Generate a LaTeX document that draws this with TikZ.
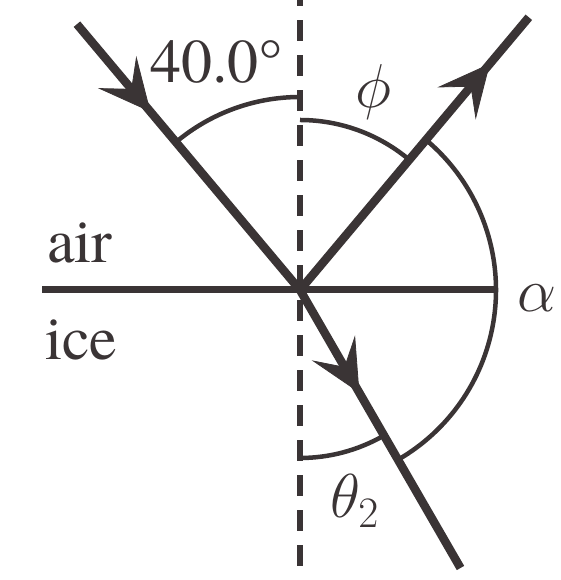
\RequirePackage{fix-cm}
\documentclass[tikz,border=0pt]{standalone}
\usepackage{fontspec}
\setmainfont{TeX Gyre Termes}
\usetikzlibrary{arrows.meta,calc}
\definecolor{ink}{RGB}{58,52,53}
\tikzset{
  ray/.style={draw=ink, line width=8.5pt},
  rayhead/.style={draw=ink, fill=ink, line width=0.8pt, -{Stealth[length=52pt,width=50pt,inset=22pt]}},
  surface/.style={draw=ink, line width=7pt},
  normal/.style={draw=ink, line width=6.5pt, dash pattern=on 21pt off 14pt, dash phase=21pt},
  anglearc/.style={draw=ink, line width=4.5pt},
  lbl/.style={text=ink, inner sep=0pt, anchor=base west, font=\fontsize{62}{70}\selectfont}
}
\begin{document}
\begin{tikzpicture}[x=1pt,y=1pt]
\useasboundingbox (0,0) rectangle (561,580);
\coordinate (O) at (300,290);
\coordinate (Ntop) at (300,580);
\coordinate (Nbot) at (300,0);
\coordinate (Hleft) at (42,290);
\coordinate (Hright) at (496,290);
\coordinate (A) at ($(O)+(130:347)$);
\coordinate (R) at ($(O)+(50:356)$);
\coordinate (T) at ($(O)+(-60:321)$);
\coordinate (Ai) at ($(A)!0.33!(O)$);
\coordinate (Ri) at ($(O)!0.83!(R)$);
\coordinate (Ti) at ($(O)!0.37!(T)$);
% normal and surface
\draw[normal] (Nbot) -- (Ntop);
\draw[surface] (Hleft) -- (Hright);
% angle arcs
\draw[anglearc] ($(O)+(90:193)$) arc[start angle=90, end angle=130, radius=193];
\draw[anglearc] ($(O)+(90:170)$) arc[start angle=90, end angle=50, radius=170];
\draw[anglearc] ($(O)+(50:196)$) arc[start angle=50, end angle=-60, radius=196];
\draw[anglearc] ($(O)+(-90:168)$) arc[start angle=-90, end angle=-60, radius=168];
% rays
\draw[ray] (A) -- (O);
\draw[ray] (O) -- (R);
\draw[ray] (O) -- (T);
\draw[rayhead] (A) -- (Ai);
\draw[rayhead] (O) -- (Ri);
\draw[rayhead] (O) -- (Ti);
% labels
\node[lbl] (l40) at (150,497) {40.0°};
\node[lbl] (lphi) at (355,472) {$\phi$};
\node[lbl] (lalpha) at (517,268) {$\alpha$};
\node[lbl] (ltheta) at (330,62) {$\theta_2$};
\node[lbl] (lair) at (47,317) {air};
\node[lbl] (lice) at (45,220) {ice};
\end{tikzpicture}
\end{document}
